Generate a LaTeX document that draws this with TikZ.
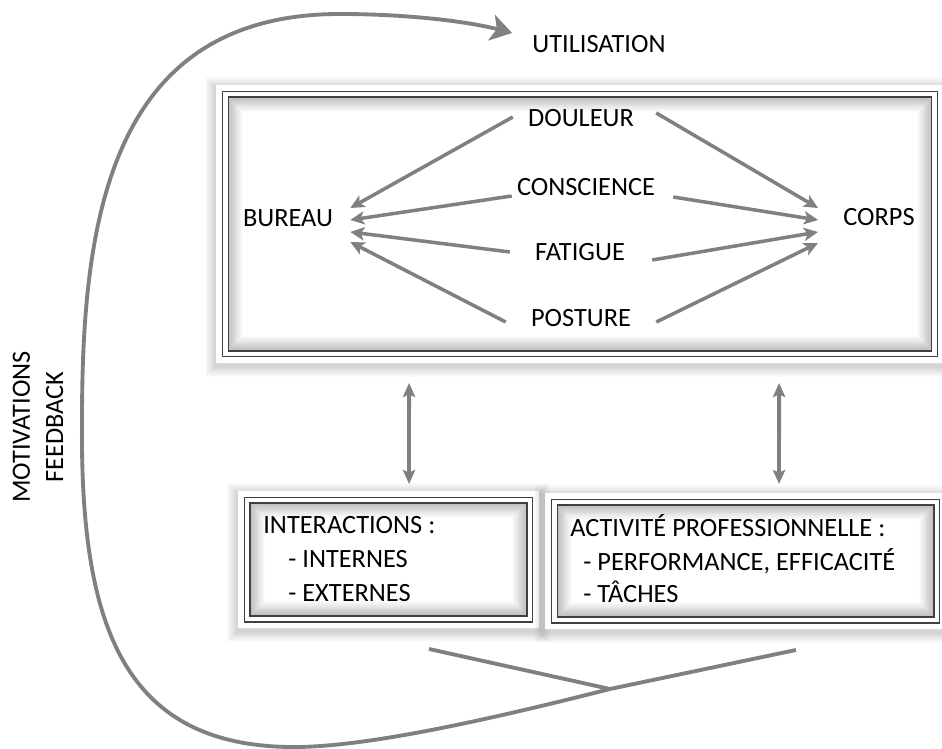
\documentclass[tikz,border=0pt]{standalone}
\usepackage{fontspec}
\setmainfont{Carlito}
\usetikzlibrary{arrows.meta,calc,backgrounds}
\definecolor{gris}{RGB}{128,128,128}

\begin{document}
\begin{tikzpicture}[x=0.02cm,y=-0.02cm,
  texte/.style={font=\fontsize{15}{19}\selectfont, inner sep=0pt},
  cadre/.style={draw=black!75, line width=0.6pt, double=white, double distance=2.8pt,
    inner sep=0pt, outer sep=0pt},
  fleche/.style={draw=gris, line width=2pt, -{Stealth[length=8pt,width=7.5pt,inset=2pt]}},
  fleche2/.style={draw=gris, line width=2.2pt,
    {Stealth[length=8pt,width=7pt,inset=1.5pt]}-{Stealth[length=8pt,width=7pt,inset=1.5pt]}},
  trait/.style={draw=gris, line width=2.2pt},
  boucle/.style={draw=gris, line width=2.2pt, -{Stealth[length=12pt,width=15pt,inset=3pt]}}
]
  \useasboundingbox (0,0) rectangle (942,749);

  % Cadres
  \node[cadre, minimum width=14.2cm, minimum height=5.2cm] (haut) at (580,224) {};
  \node[cadre, minimum width=5.66cm, minimum height=2.38cm] (inter) at (388.5,559.5) {};
  \node[cadre, minimum width=7.66cm, minimum height=2.36cm] (activ) at (745.5,561) {};

  % Ombres et lueurs
  \begin{pgfonlayer}{background}
    \foreach \b in {haut,inter,activ}{
      \foreach \w in {1,2,...,12}
        \draw[black, opacity=0.015, line width=\w pt]
          ($(\b.south west)+(-9,12)$) rectangle ($(\b.north east)+(9,-6)$);
      \fill[white] ($(\b.south west)+(-9,9)$) rectangle ($(\b.north east)+(9,-9)$);
      \begin{scope}
        \clip (\b.south west) rectangle (\b.north east);
        \foreach \w in {2,3,...,20}
          \draw[black, opacity=0.016, line width=\w pt] (\b.south west) rectangle (\b.north east);
      \end{scope}
    }
  \end{pgfonlayer}

  % Textes du haut
  \node[texte] (util) at (599,44) {UTILISATION};
  \node[texte] (douleur) at (581,118) {DOULEUR};
  \node[texte] (conscience) at (586,187) {CONSCIENCE};
  \node[texte] (fatigue) at (580,252) {FATIGUE};
  \node[texte] (posture) at (581,318) {POSTURE};
  \node[texte] (bureau) at (288,218) {BUREAU};
  \node[texte] (corps) at (879,217) {CORPS};

  % Vers le bureau
  \draw[fleche] ($(douleur.west)+(-15,-1)$) -- ($(bureau.east)+(17,-10)$);
  \draw[fleche] ($(conscience.west)+(-5,9)$) -- ($(bureau.east)+(17,2)$);
  \draw[fleche] ($(fatigue.west)+(-25,0)$) -- ($(bureau.east)+(17,14)$);
  \draw[fleche] ($(posture.west)+(-25,4)$) -- ($(bureau.east)+(17,24)$);

  % Vers le corps
  \draw[fleche] ($(douleur.east)+(22,-5)$) -- ($(corps.west)+(-25,-9)$);
  \draw[fleche] ($(conscience.east)+(18,10)$) -- ($(corps.west)+(-25,3)$);
  \draw[fleche] ($(fatigue.east)+(27,8)$) -- ($(corps.west)+(-25,15)$);
  \draw[fleche] ($(posture.east)+(25,4)$) -- ($(corps.west)+(-25,26)$);

  % Liens verticaux
  \draw[fleche2] ($(haut.south west)+(184,29)$) -- ($(inter.north west)+(162,-16)$);
  \draw[fleche2] ($(haut.south west)+(554,29)$) -- ($(activ.north west)+(225,-18)$);

  % Textes du bas
  \node[texte, anchor=base west] (inter1) at (263,533) {INTERACTIONS :};
  \node[texte, anchor=base west] (inter2) at (288,567) {- INTERNES};
  \node[texte, anchor=base west] (inter3) at (288,601) {- EXTERNES};
  \node[texte, anchor=base west] (activ1) at (570,536) {ACTIVITÉ PROFESSIONNELLE :};
  \node[texte, anchor=base west] (activ2) at (583,570) {- PERFORMANCE, EFFICACITÉ};
  \node[texte, anchor=base west] (activ3) at (583,602) {- TÂCHES};

  % Retour
  \node[texte, rotate=90, align=center] (motiv) at (38,427) {MOTIVATIONS\\FEEDBACK};
  \coordinate (jonction) at (610,689);
  \draw[trait] ($(inter.south west)+(182,30)$) -- (jonction);
  \draw[trait] ($(activ.south east)+(-141,30)$) -- (jonction);
  \draw[boucle] (jonction) .. controls (480,722) and (360,748) .. (290,747)
    .. controls (120,745) and (80,620) .. (82,420)
    .. controls (82,220) and (110,14) .. (340,14)
    .. controls (410,14) and (470,22) .. ($(util.west)+(-20,-11)$);

\end{tikzpicture}
\end{document}
